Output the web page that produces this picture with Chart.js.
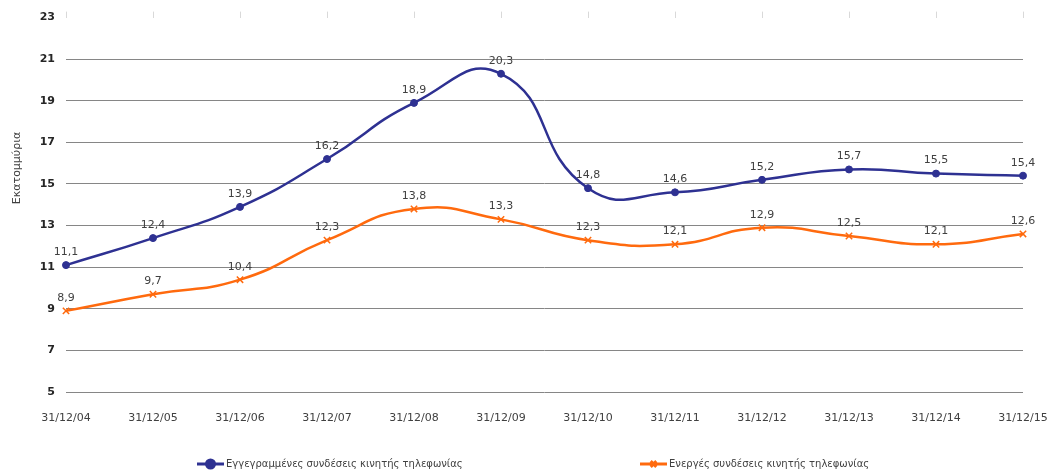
<!DOCTYPE html>
<html>
<head>
<meta charset="utf-8">
<script src="https://cdn.jsdelivr.net/npm/chart.js@4"></script>
<style>
  body { margin: 0; background: #fff; }
  #wrap { width: 1052px; height: 475px; }
</style>
</head>
<body>
<div id="wrap"><canvas id="lineChart"></canvas></div>
<script>
  const labels = ['31/12/04', '31/12/05', '31/12/06', '31/12/07', '31/12/08', '31/12/09',
    '31/12/10', '31/12/11', '31/12/12', '31/12/13', '31/12/14', '31/12/15'];

  const eggegrammenes = [11.1, 12.4, 13.9, 16.2, 18.9, 20.3, 14.8, 14.6, 15.2, 15.7, 15.5, 15.4];
  const energes = [8.9, 9.7, 10.4, 12.3, 13.8, 13.3, 12.3, 12.1, 12.9, 12.5, 12.1, 12.6];

  const yTicks = [5, 7, 9, 11, 13, 15, 17, 19, 21, 23];

  const seriesNames = ['Εγγεγραμμένες συνδέσεις κινητής τηλεφωνίας', 'Ενεργές συνδέσεις κινητής τηλεφωνίας'];
  const yTitle = 'Εκατομμύρια';

  const blue = '#2e3192';
  const orange = '#ff6a0e';
  const FONT = '"DejaVu Sans", Verdana, sans-serif';

  // labels above every point, decimal comma
  const valueLabels = {
    id: 'valueLabels',
    afterDatasetsDraw(chart) {
      const ctx = chart.ctx;
      ctx.save();
      ctx.font = '11px ' + FONT;
      ctx.fillStyle = '#404040';
      ctx.textAlign = 'center';
      ctx.textBaseline = 'middle';
      chart.data.datasets.forEach((ds, i) => {
        chart.getDatasetMeta(i).data.forEach((pt, j) => {
          ctx.fillText(String(ds.data[j]).replace('.', ','), pt.x, pt.y - 13);
        });
      });
      ctx.restore();
    }
  };

  // excel style legend (line + marker) and the y title
  const extras = {
    id: 'extras',
    afterDraw(chart) {
      const ctx = chart.ctx;
      ctx.save();
      const items = [{ x: 197, color: blue, style: 'circle' }, { x: 640, color: orange, style: 'crossRot' }];
      const y = 464;
      items.forEach((it, i) => {
        ctx.strokeStyle = it.color;
        ctx.fillStyle = it.color;
        ctx.lineWidth = 3;
        ctx.beginPath();
        ctx.moveTo(it.x, y);
        ctx.lineTo(it.x + 27, y);
        ctx.stroke();
        Chart.helpers.drawPoint(ctx, { pointStyle: it.style, radius: 4, borderWidth: 1.5 }, it.x + 13.5, y);
        ctx.fillStyle = '#404040';
        ctx.font = '10px ' + FONT;
        ctx.textBaseline = 'middle';
        ctx.textAlign = 'left';
        ctx.fillText(seriesNames[i], it.x + 29, y);
      });
      ctx.translate(17, 168);
      ctx.rotate(-Math.PI / 2);
      ctx.font = '11px ' + FONT;
      ctx.fillStyle = '#404040';
      ctx.textAlign = 'center';
      ctx.textBaseline = 'middle';
      ctx.fillText(yTitle, 0, 0);
      ctx.restore();
    }
  };

  function noSidePadding(scale) {
    scale.paddingLeft = 0;
    scale.paddingRight = 0;
  }

  const data = {
    labels: labels,
    datasets: [{
      label: seriesNames[0],
      data: eggegrammenes,
      borderColor: blue,
      backgroundColor: blue,
      borderWidth: 2.5,
      pointStyle: 'circle',
      pointRadius: 3.5,
      pointBorderWidth: 1,
      tension: 0.5
    }, {
      label: seriesNames[1],
      data: energes,
      borderColor: orange,
      backgroundColor: orange,
      borderWidth: 2.5,
      pointStyle: 'crossRot',
      pointRadius: 4.5,
      pointBorderWidth: 1.5,
      tension: 0.5
    }]
  };

  const config = {
    type: 'line',
    data: data,
    plugins: [valueLabels, extras],
    options: {
      responsive: true,
      maintainAspectRatio: false,
      animation: false,
      layout: { padding: { left: 0, right: 29, top: 0, bottom: 40 } },
      plugins: {
        legend: { display: false },
        tooltip: { enabled: false }
      },
      scales: {
        x: {
          offset: false,
          grid: { display: false },
          border: { display: false },
          ticks: { color: '#404040', font: { family: FONT, size: 11 }, padding: 12, maxRotation: 0, autoSkip: false },
          afterFit(scale) { scale.height = 43; noSidePadding(scale); }
        },
        xTop: {
          position: 'top',
          offset: false,
          labels: labels,
          grid: { display: true, drawOnChartArea: false, drawTicks: true, tickLength: 6, color: '#d9d9d9' },
          border: { display: false },
          ticks: { display: false },
          afterFit(scale) { scale.height = 14; noSidePadding(scale); }
        },
        y: {
          min: 5,
          max: 23,
          afterBuildTicks(scale) { scale.ticks = yTicks.map(v => ({ value: v })); },
          grid: {
            drawTicks: false,
            color: ctx => ctx.tick && ctx.tick.value === 23 ? 'rgba(0,0,0,0)' : '#868686',
            lineWidth: 1
          },
          border: { display: false },
          ticks: { color: '#262626', font: { family: FONT, size: 11, weight: 'bold' }, padding: 11 },
          afterFit(scale) { scale.width = 66; }
        }
      }
    }
  };

  const lineChart = new Chart(document.getElementById('lineChart').getContext('2d'), config);
</script>
</body>
</html>
